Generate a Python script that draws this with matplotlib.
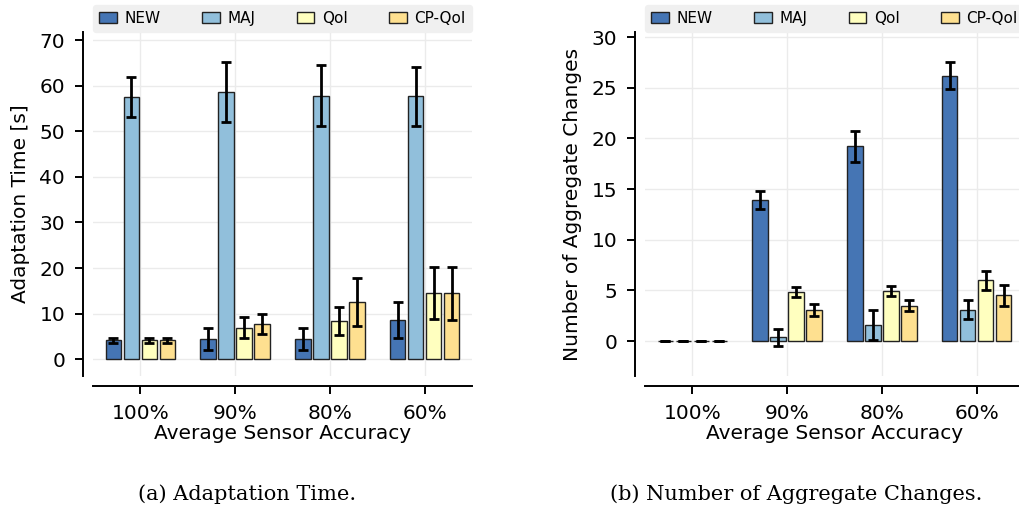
import numpy as np
from matplotlib import pyplot as plt

accuracy = ["100%", "90%", "80%", "60%"]
methods = ["NEW", "MAJ", "QoI", "CP-QoI"]
colors = ["#4575b4", "#91bfdb", "#ffffbf", "#fee090"]

# adaptation time [s], mean and error per method
time_mean = {
    "NEW": [4.1, 4.4, 4.5, 8.6],
    "MAJ": [57.6, 58.6, 57.8, 57.7],
    "QoI": [4.1, 6.9, 8.4, 14.5],
    "CP-QoI": [4.1, 7.8, 12.5, 14.5],
}
time_err = {
    "NEW": [0.6, 2.45, 2.4, 3.85],
    "MAJ": [4.4, 6.6, 6.7, 6.45],
    "QoI": [0.6, 2.3, 3.15, 5.65],
    "CP-QoI": [0.6, 2.2, 5.3, 5.8],
}

# number of aggregate changes
changes_mean = {
    "NEW": [0.0, 13.9, 19.2, 26.2],
    "MAJ": [0.0, 0.36, 1.6, 3.1],
    "QoI": [0.0, 4.83, 4.93, 6.0],
    "CP-QoI": [0.0, 3.1, 3.5, 4.5],
}
changes_err = {
    "NEW": [0.0, 0.87, 1.5, 1.37],
    "MAJ": [0.0, 0.83, 1.49, 0.96],
    "QoI": [0.0, 0.47, 0.46, 0.96],
    "CP-QoI": [0.0, 0.58, 0.56, 1.06],
}

plt.rcParams['font.family'] = ['DejaVu Sans']
plt.rcParams['font.size'] = 14.5


def draw(ax, means, errs, ylabel, yticks, ylim):
    xs = np.arange(len(accuracy))
    for i, m in enumerate(methods):
        ax.bar(xs + (i - 1.5) * 0.19, means[m], 0.165, yerr=errs[m],
               color=colors[i], edgecolor="#222222", linewidth=1,
               error_kw=dict(elinewidth=2, capsize=3.5, capthick=2, ecolor="black"),
               label=m, zorder=3)
    ax.set_xlim(-0.5, 3.5)
    ax.set_ylim(*ylim)
    ax.set_xticks(xs)
    ax.set_xticklabels(accuracy)
    ax.set_yticks(yticks)
    ax.set_xlabel("Average Sensor Accuracy", labelpad=1)
    ax.set_ylabel(ylabel, labelpad=7)
    ax.grid(True, color="#ebebeb", linewidth=1, zorder=0)
    ax.set_axisbelow(True)
    for s in ["top", "right"]:
        ax.spines[s].set_visible(False)
    for s in ["left", "bottom"]:
        ax.spines[s].set_position(("outward", 7))
        ax.spines[s].set_linewidth(1.4)
    ax.tick_params(width=1.4, length=6, pad=7)
    leg = ax.legend(ncol=4, loc="lower left", bbox_to_anchor=(0, 1, 1, 0.08),
                    mode="expand", borderaxespad=0, fontsize=11,
                    handlelength=1.15, handleheight=0.7, handletextpad=0.5,
                    fancybox=True, framealpha=1)
    leg.get_frame().set_facecolor("#f0f0f0")
    leg.get_frame().set_edgecolor("#f0f0f0")


fig = plt.figure(figsize=(10.19, 5.16), dpi=100)
ax1 = fig.add_axes([93 / 1019, 0.2713, 379 / 1019, 0.6667])
ax2 = fig.add_axes([645 / 1019, 0.2713, 379 / 1019, 0.6667])

draw(ax1, time_mean, time_err, "Adaptation Time [s]", range(0, 71, 10), (-3.7, 71.8))
draw(ax2, changes_mean, changes_err, "Number of Aggregate Changes", range(0, 31, 5), (-3.45, 30.5))

fig.text(247 / 1019, 1 - 494 / 516, "(a) Adaptation Time.", ha="center", va="center",
         family="DejaVu Serif", fontsize=15)
fig.text(796 / 1019, 1 - 494 / 516, "(b) Number of Aggregate Changes.", ha="center",
         va="center", family="DejaVu Serif", fontsize=15)

fig.savefig("out.png", dpi=100)
